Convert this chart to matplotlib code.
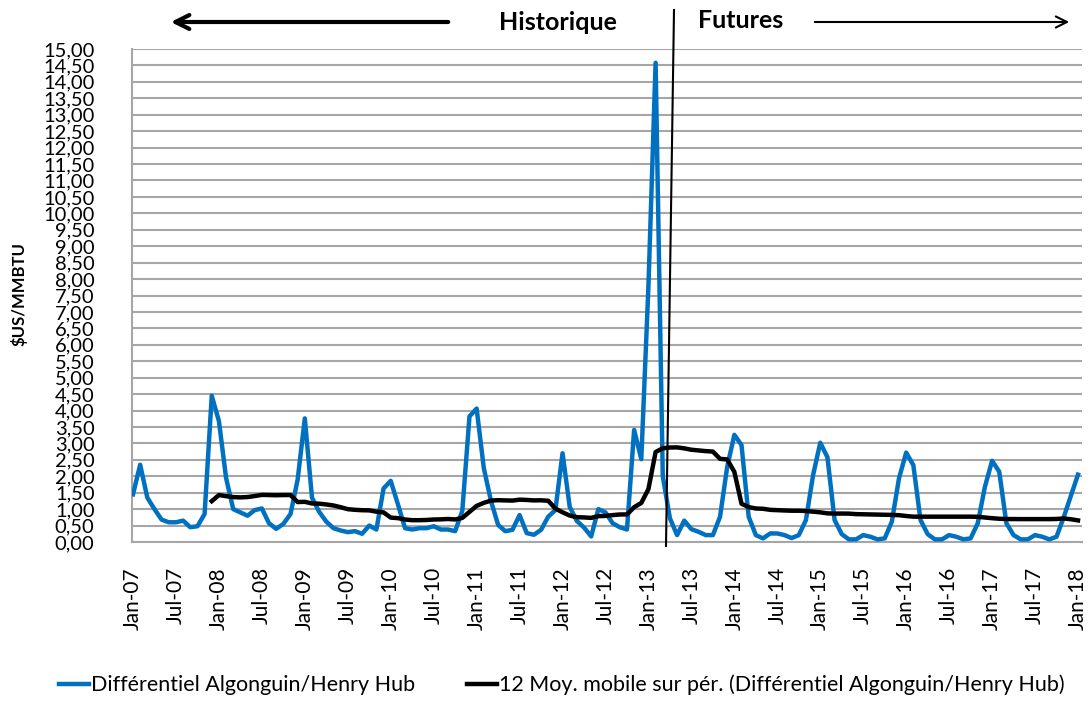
import numpy as np
import pandas as pd
import matplotlib
matplotlib.use("Agg")
import matplotlib.pyplot as plt
from matplotlib.lines import Line2D
from matplotlib.patches import FancyArrowPatch
from matplotlib.ticker import FuncFormatter, MultipleLocator

plt.rcParams['font.family'] = ['Lato', 'DejaVu Sans']

# ---------------- data ----------------
start_month = "2007-01"
differential = [
    1.45, 2.35, 1.35, 1.00, 0.68, 0.60, 0.60, 0.65, 0.45, 0.48, 0.85, 4.45,   # 2007
    3.68, 1.95, 1.00, 0.90, 0.80, 0.97, 1.02, 0.57, 0.40, 0.55, 0.85, 1.90,   # 2008
    3.76, 1.35, 0.92, 0.62, 0.42, 0.35, 0.30, 0.33, 0.25, 0.50, 0.38, 1.63,   # 2009
    1.86, 1.15, 0.42, 0.38, 0.42, 0.42, 0.48, 0.38, 0.38, 0.33, 0.95, 3.82,   # 2010
    4.06, 2.25, 1.25, 0.52, 0.33, 0.37, 0.82, 0.27, 0.22, 0.37, 0.77, 0.97,   # 2011
    2.70, 1.07, 0.64, 0.44, 0.17, 1.00, 0.90, 0.57, 0.45, 0.38, 3.41, 2.52,   # 2012
    7.80, 14.58, 2.00, 0.72, 0.21, 0.65, 0.39, 0.31, 0.21, 0.21, 0.77, 2.29,  # 2013
    3.26, 2.95, 0.77, 0.21, 0.11, 0.26, 0.26, 0.21, 0.12, 0.21, 0.67, 2.04,   # 2014
    3.02, 2.58, 0.67, 0.24, 0.08, 0.08, 0.21, 0.16, 0.08, 0.11, 0.62, 1.94,   # 2015
    2.72, 2.34, 0.67, 0.24, 0.08, 0.08, 0.21, 0.16, 0.08, 0.11, 0.57, 1.68,   # 2016
    2.47, 2.14, 0.57, 0.21, 0.08, 0.08, 0.21, 0.16, 0.08, 0.16, 0.75, 1.40,   # 2017
    2.05,                                                                    # Jan-2018
]
ma_window = 12
series_label = "Différentiel Algonguin/Henry Hub"
ma_label = "12 Moy. mobile sur pér. (Différentiel Algonguin/Henry Hub)"
y_label = "\\$US/MMBTU"
left_note = "Historique"
right_note = "Futures"

months = pd.date_range(start_month, periods=len(differential), freq="MS")
month_labels = [d.strftime("%b-%y") for d in months]
s = pd.Series(differential)
moving_avg = s.rolling(ma_window).mean()

# ---------------- figure ----------------
W, H = 1092, 711
fig = plt.figure(figsize=(W / 100, H / 100), dpi=100)
ax = fig.add_axes([132 / W, 1 - 542 / H, 950 / W, 493 / H])

x = np.arange(len(differential))
ax.plot(x, differential, color="#0070C0", lw=3.2, solid_joinstyle="round", zorder=3)
ax.plot(x, moving_avg, color="black", lw=3.2, solid_joinstyle="round", zorder=4)

ax.set_xlim(-0.14, 132.56)
ax.set_ylim(0, 15)
ax.yaxis.set_major_locator(MultipleLocator(0.5))
ax.yaxis.set_major_formatter(FuncFormatter(lambda v, p: f"{v:.2f}".replace(".", ",")))
tick_idx = x[::6]
ax.set_xticks(tick_idx)
ax.set_xticklabels([month_labels[i] for i in tick_idx], rotation=90)

ax.grid(axis="y", color="#a6a6a6", lw=1.5, zorder=0)
ax.set_axisbelow(True)
for side in ("top", "right"):
    ax.spines[side].set_visible(False)
for side in ("left", "bottom"):
    ax.spines[side].set_color("#a6a6a6")
    ax.spines[side].set_linewidth(1.5)

ax.tick_params(axis="y", length=0, pad=27, labelsize=14.5)
ax.tick_params(axis="x", length=0, pad=18, labelsize=15)

fig.text(19 / W, 1 - 294 / H, y_label, rotation=90, fontsize=12, fontweight="bold",
         ha="center", va="center")

# annotations
fig.text(558 / W, 1 - 22 / H, left_note, fontsize=18, fontweight="bold", ha="center", va="center")
fig.text(741 / W, 1 - 20 / H, right_note, fontsize=18, fontweight="bold", ha="center", va="center")
fig.add_artist(Line2D([674 / W, 666 / W], [1 - 10 / H, 1 - 546 / H], color="black", lw=1.5, zorder=10))
fig.add_artist(FancyArrowPatch((451 / W, 1 - 22 / H), (168 / W, 1 - 22 / H),
                               transform=fig.transFigure, arrowstyle="->", lw=3,
                               mutation_scale=25, color="black"))
fig.add_artist(FancyArrowPatch((812 / W, 1 - 22 / H), (1072 / W, 1 - 22 / H),
                               transform=fig.transFigure, arrowstyle="->", lw=1.5,
                               mutation_scale=20, color="black"))

handles = [Line2D([], [], color="#0070C0", lw=3.2), Line2D([], [], color="black", lw=3.2)]
fig.legend(handles, [series_label, ma_label], loc="center", bbox_to_anchor=(562 / W, 1 - 685 / H),
           ncol=2, frameon=False, fontsize=15.5, handlelength=1.4, handletextpad=0.1,
           columnspacing=2.4)

fig.savefig("out.png", dpi=100)
